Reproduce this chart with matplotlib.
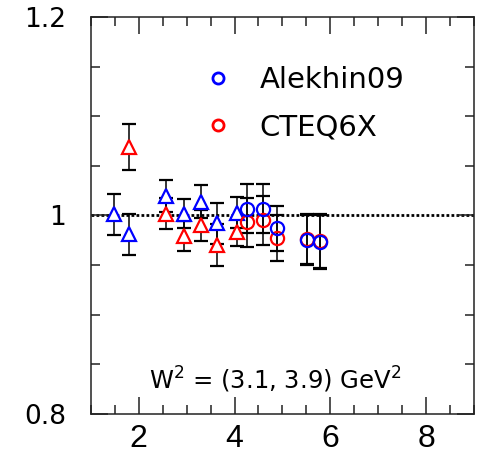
import matplotlib
matplotlib.use("Agg")
import matplotlib.pyplot as plt
from matplotlib.lines import Line2D
from matplotlib.ticker import MultipleLocator, FixedLocator

plt.rcParams['font.family'] = ['DejaVu Sans']
plt.rcParams['mathtext.default'] = 'regular'

# Alekhin09 (blue) and CTEQ6X (red) ratios, triangles at low x
tri_x_blue = [1.49, 1.80, 2.56, 2.94, 3.31, 3.64, 4.06]
tri_y_blue = [1.001, 0.981, 1.020, 1.002, 1.014, 0.992, 1.003]
tri_e_blue = [0.021, 0.021, 0.016, 0.015, 0.017, 0.021, 0.016]

tri_x_red = [1.80, 2.56, 2.94, 3.31, 3.64, 4.06]
tri_y_red = [1.069, 1.002, 0.979, 0.990, 0.970, 0.983]
tri_e_red = [0.023, 0.016, 0.015, 0.016, 0.021, 0.014]

# circles at higher x
circ_x = [4.26, 4.59, 4.89, 5.51, 5.79]
circ_y_blue = [1.007, 1.007, 0.987, 0.975, 0.973]
circ_y_red = [0.993, 0.995, 0.977, 0.976, 0.974]
circ_e = [0.025, 0.025, 0.023, 0.025, 0.027]

x_ticks = [2, 4, 6, 8]
y_ticks = [0.8, 1.0, 1.2]
y_tick_labels = ['0.8', '1', '1.2']

BLUE = '#0000ff'
RED = '#ff0000'

fig = plt.figure(figsize=(4.78, 4.53), dpi=100)
ax = fig.add_axes([0.190, 0.0861, 0.8016, 0.8764])

ax.axhline(1.0, color='black', lw=2.0, linestyle=(0, (1, 0.8)), zorder=1)

err_kw = dict(ecolor='black', elinewidth=1.1, capsize=5, capthick=1.1,
              linestyle='none', mew=1.6, ms=9.5, zorder=3)

ax.errorbar(tri_x_red, tri_y_red, yerr=tri_e_red, marker='^', mfc='white',
            mec=RED, **err_kw)
ax.errorbar(tri_x_blue, tri_y_blue, yerr=tri_e_blue, marker='^', mfc='white',
            mec=BLUE, **err_kw)
ax.errorbar(circ_x, circ_y_red, yerr=circ_e, marker='o', mfc='none',
            mec=RED, **err_kw)
ax.errorbar(circ_x, circ_y_blue, yerr=circ_e, marker='o', mfc='none',
            mec=BLUE, **err_kw)

ax.set_xlim(1.0, 9.0)
ax.set_ylim(0.8, 1.2)

ax.xaxis.set_major_locator(FixedLocator(x_ticks))
ax.xaxis.set_minor_locator(MultipleLocator(0.5))
ax.yaxis.set_major_locator(FixedLocator(y_ticks))
ax.yaxis.set_minor_locator(MultipleLocator(0.05))
ax.set_yticklabels(y_tick_labels)

for s in ax.spines.values():
    s.set_linewidth(1.1)
    s.set_color('#222222')

ax.tick_params(which='both', direction='in', top=True, right=True,
               color='#222222', width=1.1)
ax.tick_params(which='major', length=12.5)
ax.tick_params(which='minor', length=6.5)
ax.tick_params(axis='x', which='major', labelsize=23, pad=7)
ax.tick_params(axis='y', which='major', labelsize=19, pad=18)
for lbl in ax.get_xticklabels():
    lbl.set_fontfamily('Liberation Sans')

handles = [Line2D([], [], marker='o', ls='none', mfc='none', mec=BLUE, mew=2, ms=8),
           Line2D([], [], marker='o', ls='none', mfc='none', mec=RED, mew=2, ms=8)]
ax.legend(handles, ['Alekhin09', 'CTEQ6X'], loc='upper left',
          bbox_to_anchor=(0.301, 0.877), frameon=False, fontsize=21,
          handlelength=0.8, handletextpad=1.04, labelspacing=0.66,
          borderpad=0, borderaxespad=0)

ax.text(0.48, 0.0856, 'W$^2$ = (3.1, 3.9) GeV$^2$', transform=ax.transAxes,
        ha='center', va='center', fontsize=17.5)

fig.savefig('out.png', dpi=100)
